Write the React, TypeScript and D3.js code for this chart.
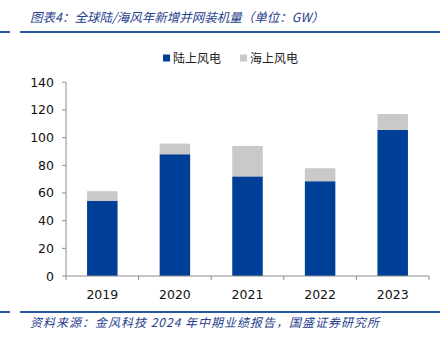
import React from "react";
import * as d3 from "d3";

const years = ["2019", "2020", "2021", "2022", "2023"];
const onshore = [54.2, 88.0, 72.0, 68.5, 105.6];
const offshore = [7.1, 7.7, 22.0, 9.4, 11.5];
const yTicks = [0, 20, 40, 60, 80, 100, 120, 140];
const seriesNames = ["陆上风电", "海上风电"];
const colors = ["#003F98", "#C9C9C9"];

const W = 443, H = 341;
const left = 66, right = 429, top = 82.3, bottom = 276;

export default function App() {
  const x = d3.scaleBand<string>().domain(years).range([left, right]).paddingInner(0.58).paddingOuter(0.29);
  const y = d3.scaleLinear().domain([0, 140]).range([bottom, top]);
  const stacked = d3.stack<any>().keys(["on", "off"])(
    years.map((yr, i) => ({ yr, on: onshore[i], off: offshore[i] }))
  );
  const step = (right - left) / years.length;
  const boundaries = d3.range(years.length + 1).map(i => left + i * step);
  const lineColor = "#2A56A6";
  const titleColor = "#1F3E8C";
  const tickFont = "Tahoma, 'DejaVu Sans', Verdana, sans-serif";
  return (
    <svg width={W} height={H} style={{ position: "absolute", left: 0, top: 0, background: "#fff" }}>
      <text x={30} y={22} fill={titleColor} fontSize={12.5} fontStyle="italic" fontFamily="'Noto Sans CJK SC', sans-serif">
        图表4：全球陆/海风年新增并网装机量（单位：GW）
      </text>
      <line x1={0} x2={10} y1={32} y2={32} stroke={lineColor} strokeWidth={2} />
      <line x1={20} x2={440} y1={32} y2={32} stroke={lineColor} strokeWidth={2} />

      {/* legend */}
      {seriesNames.map((n, i) => {
        const lx = i === 0 ? 163 : 240;
        return (
          <g key={n}>
            <rect x={lx} y={54.5} width={7} height={7} fill={colors[i]} />
            <text x={lx + 10} y={62.5} fontSize={12} fill="#222" fontFamily="'Noto Sans CJK SC', sans-serif">{n}</text>
          </g>
        );
      })}

      {/* bars */}
      {stacked.map((s, si) => (
        <g key={si}>
          {s.map((d, i) => (
            <rect key={i} x={x(years[i])!} width={x.bandwidth()} y={y(d[1])} height={y(d[0]) - y(d[1])} fill={colors[si]} />
          ))}
        </g>
      ))}

      {/* y axis */}
      <line x1={left} x2={left} y1={top} y2={bottom} stroke="#8C8C8C" strokeWidth={1} />
      {yTicks.map(t => (
        <g key={t}>
          <line x1={left - 4} x2={left} y1={y(t)} y2={y(t)} stroke="#8C8C8C" />
          <text x={54} y={y(t) + 4.5} textAnchor="end" fontSize={12.5} fill="#111" fontFamily={tickFont}>{t}</text>
        </g>
      ))}

      {/* x axis */}
      <line x1={left} x2={right} y1={bottom} y2={bottom} stroke="#8C8C8C" />
      {boundaries.map((b, i) => (
        <line key={i} x1={b} x2={b} y1={bottom} y2={bottom + 4} stroke="#8C8C8C" />
      ))}
      {years.map(yr => (
        <text key={yr} x={x(yr)! + x.bandwidth() / 2} y={299} textAnchor="middle" fontSize={12.5} fill="#111" fontFamily={tickFont}>{yr}</text>
      ))}

      <line x1={0} x2={10} y1={312} y2={312} stroke={lineColor} strokeWidth={2} />
      <line x1={20} x2={440} y1={312} y2={312} stroke={lineColor} strokeWidth={2} />
      <text x={30} y={327} fill={titleColor} fontSize={12} letterSpacing={1} fontStyle="italic" fontFamily="'Noto Sans CJK SC', sans-serif">
        资料来源：金风科技 2024 年中期业绩报告，国盛证券研究所
      </text>
    </svg>
  );
}
